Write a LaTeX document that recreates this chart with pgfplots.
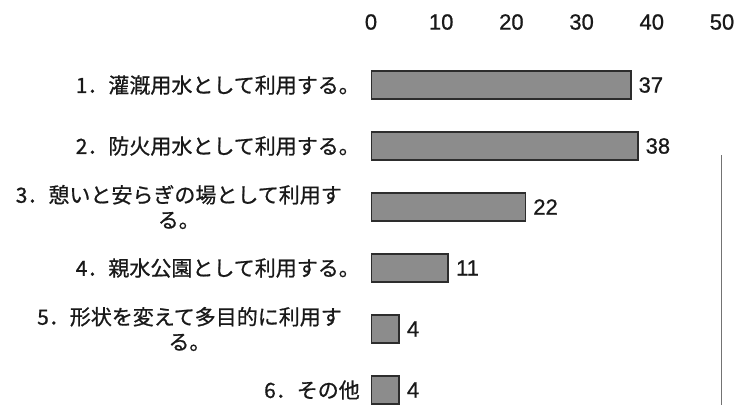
\documentclass[border=0pt]{standalone}
\usepackage{pgfplots}
\pgfplotsset{compat=1.18}
\usepackage{fontspec}
\setmainfont{Liberation Sans}[FakeBold=0.8]
\newfontfamily\jp{Noto Sans CJK JP}[FakeBold=0.8]
\definecolor{txt}{RGB}{25,25,25}
\definecolor{barfill}{RGB}{140,140,140}
\definecolor{barline}{RGB}{45,45,45}

\begin{document}
\begin{tikzpicture}
\useasboundingbox (0,0) rectangle (737bp,405bp);
\begin{axis}[
  at={(371bp,0bp)}, anchor=south west,
  scale only axis, width=351bp, height=360bp,
  xbar, bar width=0.46,
  xmin=0, xmax=50, xtick={0,10,...,50},
  ymin=0.344, ymax=6.246, y dir=reverse,
  ytick={1,...,6},
  yticklabels={
    {1．灌漑用水として利用する。},
    {2．防火用水として利用する。},
    {3．憩いと安らぎの場として利用す\hspace*{18bp}\\る。\hspace*{18bp}},
    {4．親水公園として利用する。},
    {5．形状を変えて多目的に利用す\hspace*{18bp}\\る。\hspace*{18bp}},
    {6．その他}},
  axis line style={draw=none},
  major tick length=0pt,
  xticklabel pos=upper,
  /pgf/number format/assume math mode=true,
  xticklabel style={font=\fontsize{22bp}{24bp}\selectfont, text=txt, inner sep=0pt, yshift=15bp},
  yticklabel style={font=\jp\fontsize{21bp}{25bp}\selectfont, text=txt, align=center, inner sep=0pt, xshift=-11bp},
  nodes near coords,
  nodes near coords align={horizontal},
  every node near coord/.append style={font=\fontsize{22bp}{24bp}\selectfont, text=txt, inner sep=0pt, anchor=west, xshift=7bp},
]
\addplot[fill=barfill, draw=barline, line width=1.8bp]
  coordinates {(37,1) (38,2) (22,3) (11,4) (4,5) (4,6)};
\draw[black!55, line width=1bp] (axis cs:50,2.15) -- (axis cs:50,6.246);
\end{axis}
\end{tikzpicture}
\end{document}
